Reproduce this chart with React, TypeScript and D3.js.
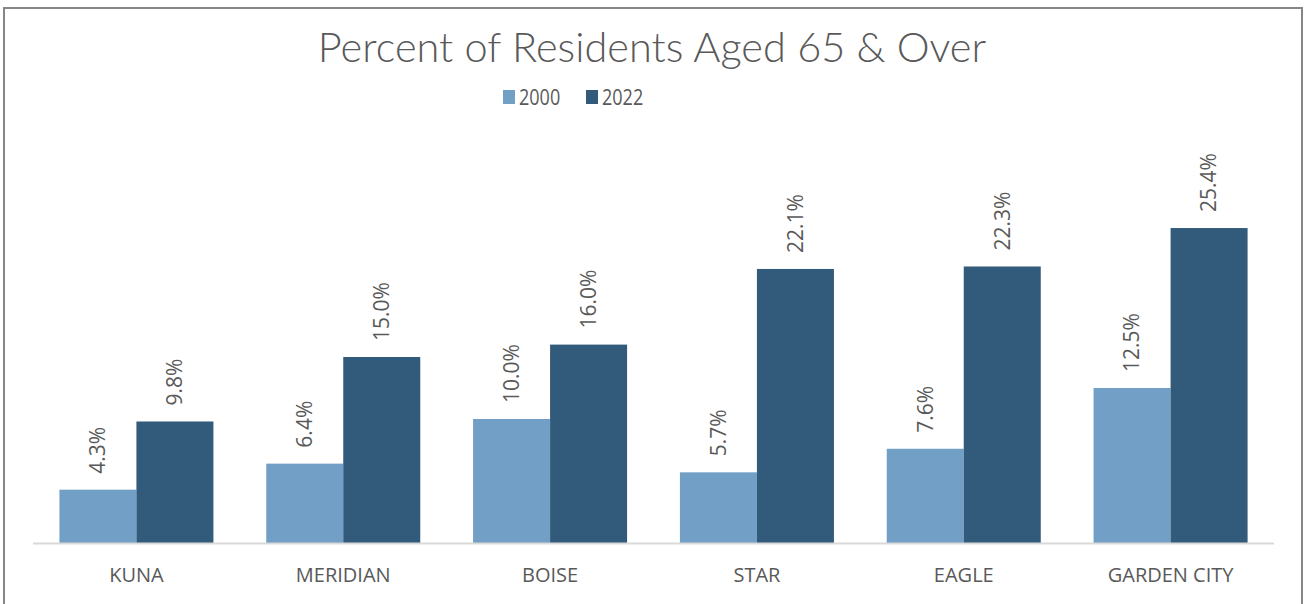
import React, { useEffect, useRef } from 'react';
import * as d3 from 'd3';

const categories = ['KUNA', 'MERIDIAN', 'BOISE', 'STAR', 'EAGLE', 'GARDEN CITY'];
const seriesNames = ['2000', '2022'];
const values2000 = [4.3, 6.4, 10.0, 5.7, 7.6, 12.5];
const values2022 = [9.8, 15.0, 16.0, 22.1, 22.3, 25.4];
const colors = ['#719fc6', '#325a7a'];

const App: React.FC = () => {
  const svgRef = useRef<SVGSVGElement | null>(null);

  useEffect(() => {
    if (!svgRef.current) return;
    document.body.style.margin = '0';

    const svg = d3.select(svgRef.current);
    const width = 1304;
    const height = 604;
    const margin = { top: 171, right: 30, bottom: 61, left: 33 };
    const textColor = '#595959';

    svg.selectAll('*').remove();

    // Outer border
    svg.append('rect')
      .attr('x', 4)
      .attr('y', 8)
      .attr('width', 1298)
      .attr('height', 620)
      .attr('fill', 'none')
      .attr('stroke', '#868686')
      .attr('stroke-width', 2);

    // Title
    svg.append('text')
      .attr('x', 652)
      .attr('y', 62)
      .attr('text-anchor', 'middle')
      .attr('font-family', 'Lato, "Open Sans", sans-serif')
      .attr('font-weight', 300)
      .attr('font-size', 41.5)
      .attr('fill', textColor)
      .text('Percent of Residents Aged 65 & Over');

    // Legend (condensed look of the original font)
    const legendX = [503, 586];
    seriesNames.forEach((name, i) => {
      const g = svg.append('g').attr('transform', `translate(${legendX[i]},0)`);
      g.append('rect')
        .attr('x', 0)
        .attr('y', 90)
        .attr('width', 12)
        .attr('height', 14)
        .attr('fill', colors[i]);
      g.append('text')
        .attr('transform', 'translate(16,105) scale(0.82,1)')
        .attr('font-family', '"Open Sans", sans-serif')
        .attr('font-size', 22)
        .attr('fill', textColor)
        .text(name);
    });

    // Scales
    const x0 = d3.scaleBand<string>()
      .domain(categories)
      .range([margin.left, width - margin.right])
      .padding(0);

    const x1 = d3.scaleBand<string>()
      .domain(seriesNames)
      .range([0, x0.bandwidth()])
      .paddingInner(0)
      .paddingOuter(0.343);

    const y = d3.scaleLinear()
      .domain([0, 30])
      .range([height - margin.bottom, margin.top]);

    const data = categories.map((c, i) => ({
      category: c,
      values: [values2000[i], values2022[i]],
    }));

    const groups = svg.append('g')
      .selectAll('g')
      .data(data)
      .join('g')
      .attr('transform', (d) => `translate(${x0(d.category)},0)`);

    groups.selectAll('rect')
      .data((d) => d.values.map((v, i) => ({ key: seriesNames[i], value: v, i })))
      .join('rect')
      .attr('x', (d) => x1(d.key)!)
      .attr('y', (d) => y(d.value))
      .attr('width', x1.bandwidth())
      .attr('height', (d) => y(0) - y(d.value))
      .attr('fill', (d) => colors[d.i]);

    // Value labels (rotated)
    groups.selectAll('text')
      .data((d) => d.values.map((v, i) => ({ key: seriesNames[i], value: v })))
      .join('text')
      .attr('transform', (d) =>
        `translate(${x1(d.key)! + x1.bandwidth() / 2},${y(d.value) - 16}) rotate(-90)`)
      .attr('dy', '0.35em')
      .attr('text-anchor', 'start')
      .attr('font-family', '"Open Sans", sans-serif')
      .attr('font-size', 21)
      .attr('fill', textColor)
      .text((d) => `${d.value.toFixed(1)}%`);

    // Baseline
    svg.append('line')
      .attr('x1', margin.left)
      .attr('x2', width - margin.right)
      .attr('y1', y(0) + 0.5)
      .attr('y2', y(0) + 0.5)
      .attr('stroke', '#d9d9d9')
      .attr('stroke-width', 2);

    // Category labels
    const xAxis = d3.axisBottom(x0).tickSize(0).tickPadding(0);
    const axisG = svg.append('g')
      .attr('transform', `translate(0,${y(0)})`)
      .call(xAxis);
    axisG.select('.domain').remove();
    axisG.selectAll('text')
      .attr('y', 39)
      .attr('dy', 0)
      .attr('font-family', '"Open Sans", sans-serif')
      .attr('font-size', 20)
      .attr('fill', textColor);
  }, []);

  return <svg ref={svgRef} width={1304} height={604} style={{ display: 'block' }}></svg>;
};

export default App;
